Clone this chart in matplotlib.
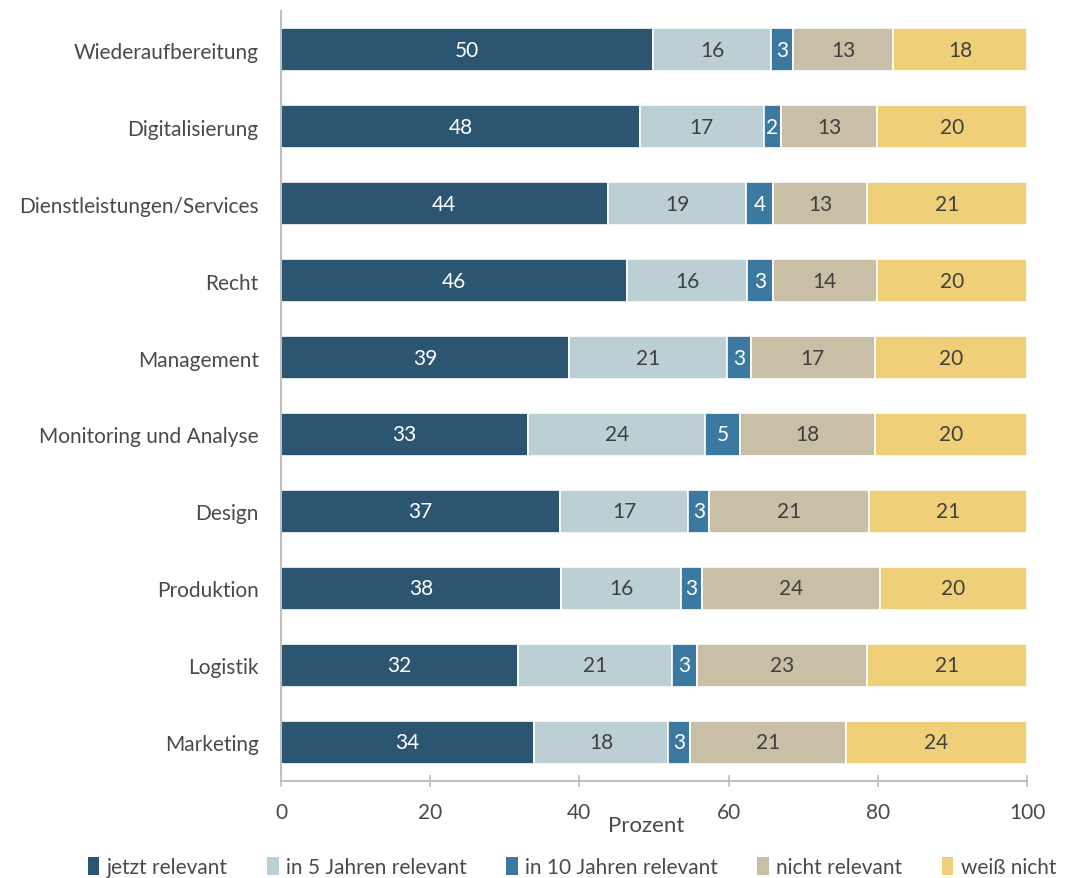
import numpy as np
import matplotlib.pyplot as plt
from matplotlib.patches import Patch

plt.rcParams['font.family'] = ['Lato', 'DejaVu Sans']

# Bereiche (oben nach unten) und Anteile in Prozent
bereiche = ['Wiederaufbereitung', 'Digitalisierung', 'Dienstleistungen/Services',
            'Recht', 'Management', 'Monitoring und Analyse', 'Design',
            'Produktion', 'Logistik', 'Marketing']
jetzt = [49.9, 48.1, 43.8, 46.4, 38.6, 33.1, 37.4, 37.6, 31.8, 33.9]
in_5_jahren = [15.8, 16.6, 18.6, 16.1, 21.2, 23.8, 17.2, 16.0, 20.6, 18.0]
in_10_jahren = [3.0, 2.3, 3.6, 3.4, 3.2, 4.6, 2.8, 2.9, 3.4, 2.9]
nicht_relevant = [13.3, 12.9, 12.6, 14.0, 16.6, 18.1, 21.4, 23.8, 22.8, 20.9]
weiss_nicht = [18.0, 20.1, 21.4, 20.1, 20.4, 20.4, 21.2, 19.7, 21.4, 24.3]

serien = [
    ('jetzt relevant', jetzt, '#2c5572', 'white'),
    ('in 5 Jahren relevant', in_5_jahren, '#bccfd4', '#404040'),
    ('in 10 Jahren relevant', in_10_jahren, '#3c79a0', 'white'),
    ('nicht relevant', nicht_relevant, '#c9bea6', '#404040'),
    ('weiß nicht', weiss_nicht, '#efcf78', '#404040'),
]

txt = '#4a4a4a'
achse = '#bfbfbf'

fig = plt.figure(figsize=(10.65, 8.79), dpi=100)
ax = fig.add_axes([0.2638, 0.1109, 0.7005, 0.8749])

y = np.arange(len(bereiche))
links = np.zeros(len(bereiche))
handles = []
for name, werte, farbe, tfarbe in serien:
    werte = np.array(werte)
    bars = ax.barh(y, werte, left=links, height=0.56, color=farbe,
                   edgecolor='white', linewidth=1.2, label=name)
    ax.bar_label(bars, labels=['%.0f' % w for w in werte], label_type='center',
                 color=tfarbe, fontsize=15)
    links += werte
    handles.append(Patch(facecolor=farbe, label=name))

ax.set_ylim(9.5, -0.5)
ax.set_xlim(0, 100)
ax.set_yticks(y)
ax.set_yticklabels(bereiche, fontsize=15, color=txt)
ax.tick_params(axis='y', length=0, pad=16)
ax.set_xticks(np.arange(0, 101, 20))
ax.tick_params(axis='x', direction='inout', length=9, width=1.2, color=achse,
               labelsize=15, labelcolor=txt, pad=11)

for s in ['top', 'right']:
    ax.spines[s].set_visible(False)
for s in ['left', 'bottom']:
    ax.spines[s].set_color(achse)
    ax.spines[s].set_linewidth(1.5)

ax.set_xlabel('Prozent', fontsize=16, color=txt)
ax.xaxis.set_label_coords(0.49, -0.045)

fig.legend(handles=handles, loc='lower center', ncol=5, frameon=False,
           bbox_to_anchor=(0.537, -0.011), borderaxespad=0.1, fontsize=15,
           handlelength=0.55, handleheight=1.0, handletextpad=0.35,
           columnspacing=1.9, labelcolor=txt)

fig.savefig('out.png', dpi=100)
